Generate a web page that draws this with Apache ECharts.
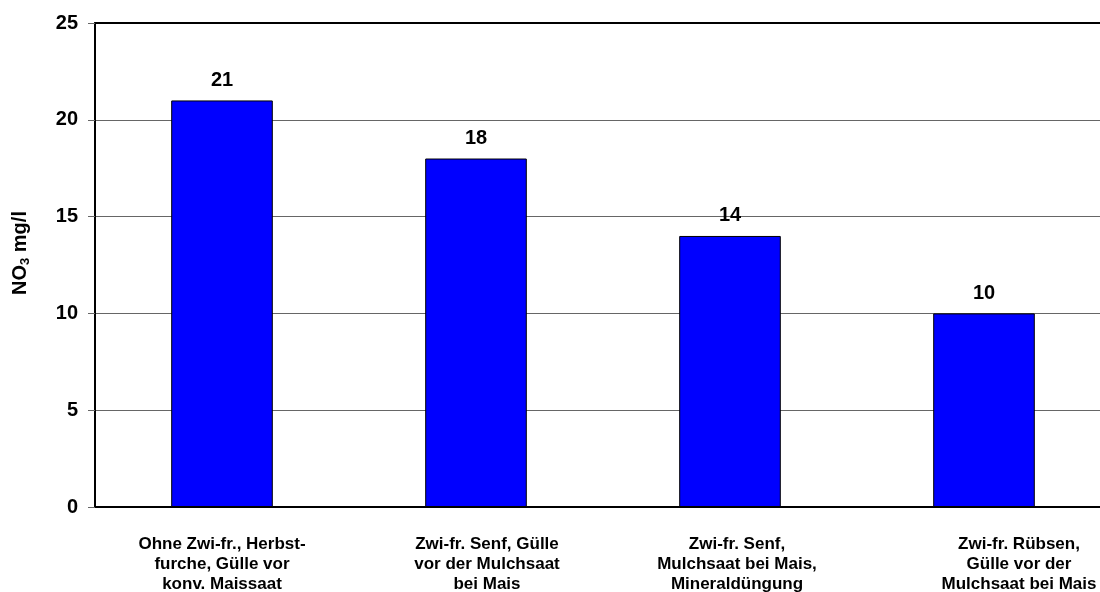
<!DOCTYPE html>
<html>
<head>
<meta charset="utf-8">
<script src="https://cdn.jsdelivr.net/npm/echarts@6/dist/echarts.min.js"></script>
<style>
  html, body { margin: 0; padding: 0; background: #fff; overflow: hidden; }
  #chart { width: 1130px; height: 592px; }
</style>
</head>
<body>
<div id="chart"></div>
<script>
// Nitrate concentration per cover-crop / tillage variant
const categories = [
  'Ohne Zwi-fr., Herbst-\nfurche, Gülle vor\nkonv. Maissaat',
  'Zwi-fr. Senf, Gülle\nvor der Mulchsaat\nbei Mais',
  'Zwi-fr. Senf,\nMulchsaat bei Mais,\nMineraldüngung',
  'Zwi-fr. Rübsen,\nGülle vor der\nMulchsaat bei Mais'
];
const nitrateValues = [21, 18, 14, 10];
const yTicks = { min: 0, max: 25, interval: 5 };
// left padding per category label (shifts the centred text block right by half)
const labelPadLeft = [0, 22, 14, 70];

const font = 'Liberation Sans, Arial, sans-serif';
const chart = echarts.init(document.getElementById('chart'));

const categoryItems = categories.map((name, i) => ({
  value: name,
  textStyle: { padding: [0, 0, 0, labelPadLeft[i]] }
}));

chart.setOption({
  animation: false,
  backgroundColor: '#ffffff',
  grid: {
    left: 95, top: 23, width: 1016, height: 484,
    containLabel: false,
    outerBoundsMode: 'none'
  },
  xAxis: [
    {
      type: 'category',
      data: categoryItems,
      position: 'bottom',
      axisLine: { show: true, lineStyle: { color: '#000', width: 2 } },
      axisTick: { show: false },
      axisLabel: {
        interval: 0,
        margin: 27,
        fontFamily: font,
        fontWeight: 'bold',
        fontSize: 17,
        lineHeight: 20,
        color: '#000',
        align: 'center'
      }
    },
    {
      type: 'category',
      data: categories,
      position: 'top',
      axisLine: { show: true, lineStyle: { color: '#000', width: 2 } },
      axisTick: { show: false },
      axisLabel: { show: false }
    }
  ],
  yAxis: {
    type: 'value',
    min: yTicks.min,
    max: yTicks.max,
    interval: yTicks.interval,
    name: '{a|NO}{s|3}{a| mg/l}',
    nameLocation: 'middle',
    nameRotate: 90,
    nameGap: 63,
    nameTextStyle: {
      padding: [0, 0, 0, 24],
      rich: {
        a: { fontFamily: font, fontWeight: 'bold', fontSize: 20, color: '#000', verticalAlign: 'middle', lineHeight: 24 },
        s: { fontFamily: font, fontWeight: 'bold', fontSize: 13, color: '#000', verticalAlign: 'bottom', lineHeight: 24, padding: [10, 0, 0, 0] }
      }
    },
    axisLine: { show: true, lineStyle: { color: '#000', width: 2 } },
    axisTick: { show: true, inside: false, length: 7, lineStyle: { color: '#666', width: 1 } },
    axisLabel: {
      margin: 17,
      fontFamily: font,
      fontWeight: 'bold',
      fontSize: 20,
      color: '#000'
    },
    splitLine: { show: true, lineStyle: { color: '#666', width: 1 } }
  },
  series: [{
    type: 'bar',
    data: nitrateValues,
    barWidth: '40%',
    itemStyle: { color: '#0000ff', borderColor: '#000', borderWidth: 1 },
    label: {
      show: true,
      position: 'top',
      distance: 10,
      fontFamily: font,
      fontWeight: 'bold',
      fontSize: 20,
      color: '#000'
    }
  }]
});
</script>
</body>
</html>
